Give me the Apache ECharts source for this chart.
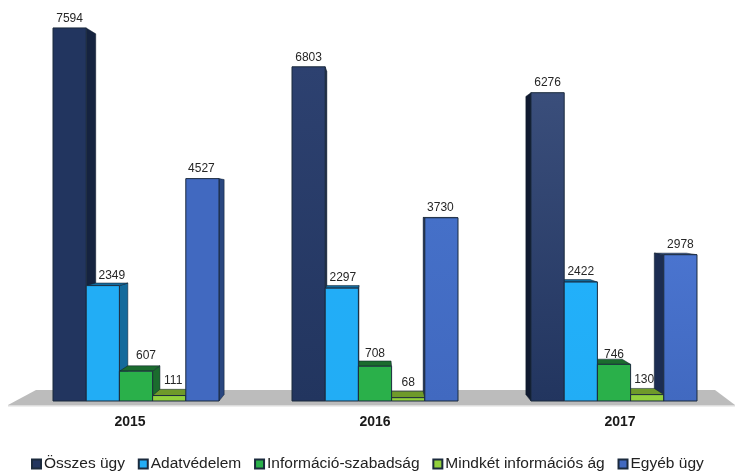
<!DOCTYPE html>
<html><head><meta charset="utf-8">
<style>html,body{margin:0;padding:0;background:#fff}#c{width:735px;height:472px}</style>
<script src="https://cdn.jsdelivr.net/npm/echarts@6/dist/echarts.min.js"></script>
</head><body><div id="c"></div>
<script>
const years = ['2015','2016','2017'];
const names = ['Összes ügy','Adatvédelem','Információ-szabadság','Mindkét információs ág','Egyéb ügy'];
const osszes = [7594,6803,6276];
const adatvedelem = [2349,2297,2422];
const informacio = [607,708,746];
const mindketto = [111,68,130];
const egyeb = [4527,3730,2978];
const values = [osszes,adatvedelem,informacio,mindketto,egyeb];

const front = [['#22355f','#2d4170','#3a4e7b'],['#22adf5','#22adf7','#22b0fa'],['#2ab04a','#2ab04a','#2ab04a'],['#92d13d','#92d13d','#92d13d'],['#4169c0','#4570c8','#4a74cf']];
const side = ['#15233f','#136a9c','#1b6b2e','#6f9a2a','#2a4780'];
const sideLeft = ['#101a30','#136a9c','#1b6b2e','#6f9a2a','#1c2d52'];
const legendColor = ['#22355f','#22adf5','#2ab04a','#92d13d','#4169c0'];
// hand-placed label nudges in the original [dx, dy] relative to the front-face top centre
const labelNudge = [
 [[0,-9],[0,-9],[0,-10]],
 [[9,-10],[1,-10],[0,-10]],
 [[10,-15],[0,-13],[0,-10]],
 [[4,-15],[0,-15],[-3,-15]],
 [[-1,-10],[-1,-10],[0,-10]]
];
const VX = 375, VY = 207, K = 0.033, PLANE = 0.0245, BAR = 33.2;

function renderBar(s){
  return function(params, api){
    const g = api.value(0), v = api.value(1);
    const p = api.coord([g, v]), b = api.coord([g, 0]);
    const c = p[0] + (VX - p[0]) * PLANE;
    const L = c + (s - 2.5) * BAR, R = L + BAR, T = p[1], B = b[1];
    const dxL = (VX - L) * K, dxR = (VX - R) * K;
    const dyT = (VY - T) * K, dyB = (VY - B) * K;
    const kids = [];
    if (R < VX) kids.push({type:'polygon',z2:1,shape:{points:[[R,T],[R+dxR,T+dyT],[R+dxR,B+dyB],[R,B]]},style:{fill:side[s],stroke:'#0d1b2a',lineWidth:0.5}});
    if (L > VX) kids.push({type:'polygon',z2:1,shape:{points:[[L,T],[L+dxL,T+dyT],[L+dxL,B+dyB],[L,B]]},style:{fill:sideLeft[s],stroke:'#0d1b2a',lineWidth:0.5}});
    if (T > VY) kids.push({type:'polygon',z2:2,shape:{points:[[L,T],[R,T],[R+dxR,T+dyT],[L+dxL,T+dyT]]},style:{fill:side[s],stroke:'#0d1b2a',lineWidth:0.5}});
    kids.push({type:'rect',z2:10,shape:{x:L,y:T,width:BAR,height:B-T},style:{
      fill:{type:'linear',x:0,y:0,x2:0,y2:1,colorStops:[{offset:0,color:front[s][g]},{offset:1,color:front[s][0]}]},
      stroke:'#1b2a3d',lineWidth:1}});
    const n = labelNudge[s][g];
    kids.push({type:'text',z2:20,style:{text:String(v),x:(L+R)/2+n[0],y:T+n[1],align:'center',verticalAlign:'middle',
      font:'12px "Liberation Sans"',fill:'#262626'}});
    return {type:'group',children:kids};
  };
}

const chart = echarts.init(document.getElementById('c'),null,{renderer:'canvas'});
chart.setOption({
  animation:false,
  backgroundColor:'#fff',
  grid:{left:7.5,width:735,top:8,height:393,outerBoundsMode:'none'},
  xAxis:{type:'category',data:years,axisLine:{show:false},axisTick:{show:false},
    axisLabel:{margin:14,fontFamily:'Liberation Sans',fontSize:14,fontWeight:'bold',color:'#1a1a1a'}},
  yAxis:{type:'value',min:0,max:8000,show:false,splitLine:{show:false}},
  legend:{left:31,top:456,padding:0,itemWidth:9,itemHeight:9,itemGap:12.8,selectedMode:false,icon:'rect',
    data:names,textStyle:{fontFamily:'Liberation Sans',fontSize:15.5,color:'#222',padding:[0,0,0,-2]}},
  graphic:[
    {type:'polygon',z:0,shape:{points:[[8,405],[36,390],[715,390],[735,405]]},style:{fill:'#bcbcbc'}},
    {type:'rect',z:0,shape:{x:8,y:405,width:727,height:1.5},style:{fill:'#dcdcdc'}}
  ],
  series:values.map((arr,s)=>({
    type:'custom',name:names[s],coordinateSystem:'cartesian2d',
    itemStyle:{color:legendColor[s],borderColor:'#1b2a3d',borderWidth:1},
    encode:{x:0,y:1},
    data:arr.map((v,i)=>[i,v]),
    renderItem:renderBar(s)
  }))
});
</script></body></html>
